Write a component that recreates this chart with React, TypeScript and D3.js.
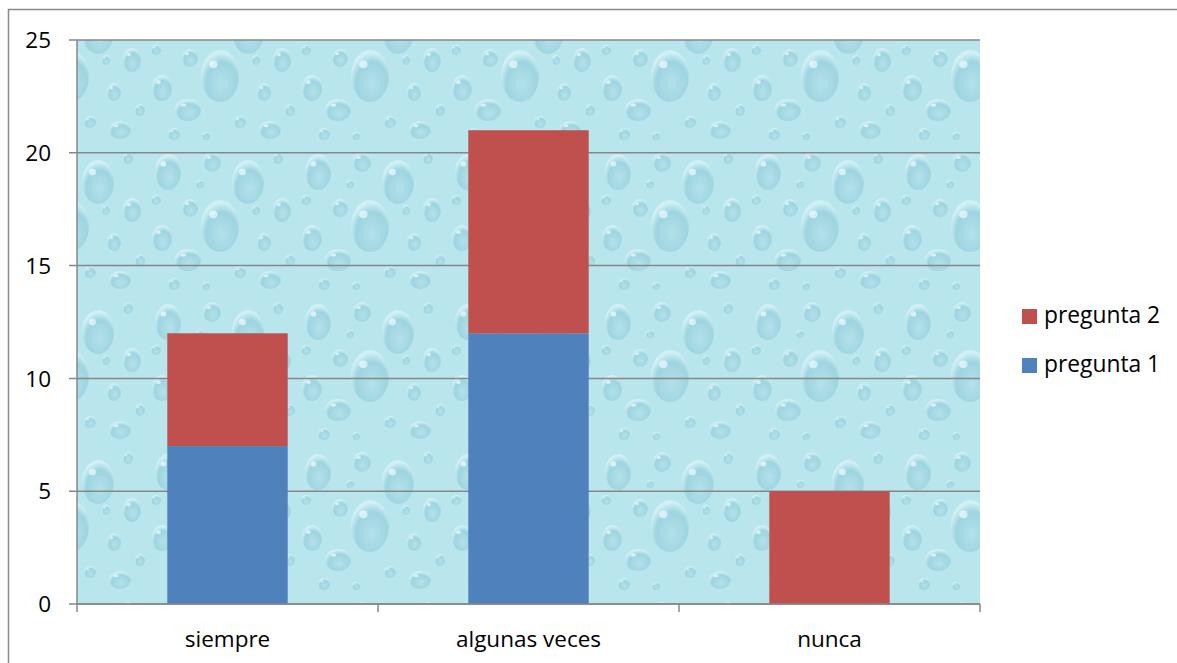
import * as d3 from "d3";

const categories = ["siempre", "algunas veces", "nunca"];
const pregunta1 = [7, 12, 0];
const pregunta2 = [5, 9, 5];
const yTicks = [0, 5, 10, 15, 20, 25];

const seriesNames = ["pregunta 1", "pregunta 2"];
const colors = ["#4f81bd", "#c0504d"];

const W = 1177;
const H = 663;
const plot = { left: 77, right: 980, top: 40, bottom: 604 };
const font = "'Open Sans', 'Noto Sans', sans-serif";

// decorative water-drop texture tile (not data)
const drops = [
  { x: 18, y: 22, rx: 13, ry: 18 },
  { x: 62, y: 12, rx: 9, ry: 10 },
  { x: 98, y: 32, rx: 16, ry: 22 },
  { x: 40, y: 58, rx: 8, ry: 9 },
  { x: 12, y: 88, rx: 10, ry: 13 },
  { x: 70, y: 76, rx: 19, ry: 26 },
  { x: 114, y: 92, rx: 7, ry: 9 },
  { x: 38, y: 110, rx: 13, ry: 11 },
  { x: 90, y: 122, rx: 6, ry: 6 },
  { x: 128, y: 8, rx: 5, ry: 6 },
  { x: 132, y: 60, rx: 9, ry: 12 },
  { x: 50, y: 34, rx: 4, ry: 4 },
  { x: 6, y: 50, rx: 5, ry: 5 },
  { x: 106, y: 60, rx: 4, ry: 5 },
  { x: 24, y: 134, rx: 6, ry: 6 },
  { x: 120, y: 130, rx: 11, ry: 9 },
  { x: 56, y: 136, rx: 4, ry: 4 },
  { x: 140, y: 110, rx: 5, ry: 6 },
];

export default function App() {
  const x = d3
    .scaleBand<string>()
    .domain(categories)
    .range([plot.left, plot.right])
    .padding(0);
  const y = d3.scaleLinear().domain([0, 25]).range([plot.bottom, plot.top]);

  const table = categories.map((c, i) => ({
    cat: c,
    "pregunta 1": pregunta1[i],
    "pregunta 2": pregunta2[i],
  }));
  const stacked = d3.stack<any>().keys(seriesNames)(table);

  const barW = x.bandwidth() * 0.4;
  const boundaries = [plot.left, ...categories.map((c) => (x(c) as number) + x.bandwidth())];

  return (
    <svg
      width={W}
      height={H}
      style={{ position: "absolute", left: 0, top: 0, background: "#fff" }}
      fontFamily={font}
    >
      <defs>
        <radialGradient id="drop" cx="0.55" cy="0.65" r="0.6">
          <stop offset="0" stopColor="#b2e0ea" />
          <stop offset="0.7" stopColor="#94cfdc" />
          <stop offset="1" stopColor="#d8f4f8" />
        </radialGradient>
        <pattern id="water" width={150} height={150} patternUnits="userSpaceOnUse">
          <rect width={150} height={150} fill="#b9e5ed" />
          {drops.map((d, i) => (
            <g key={i}>
              <ellipse cx={d.x} cy={d.y} rx={d.rx} ry={d.ry} fill="url(#drop)" opacity={0.75} />
              <ellipse
                cx={d.x - d.rx * 0.35}
                cy={d.y - d.ry * 0.45}
                rx={d.rx * 0.22}
                ry={d.ry * 0.15}
                fill="#effcff"
                opacity={0.7}
              />
            </g>
          ))}
        </pattern>
      </defs>

      {/* outer frame: only top and left edges are visible */}
      <path d={`M8.5,${H}V9.5H${W}`} fill="none" stroke="#898989" strokeWidth={1.5} />

      <rect
        x={plot.left}
        y={plot.top}
        width={plot.right - plot.left}
        height={plot.bottom - plot.top}
        fill="url(#water)"
      />

      {yTicks.map((t) => (
        <g key={t}>
          <line x1={69} x2={plot.right} y1={y(t)} y2={y(t)} stroke="#878787" strokeWidth={1.5} />
          <text x={51} y={y(t)} dy="0.36em" textAnchor="end" fontSize={22.5} fill="#000">
            {t}
          </text>
        </g>
      ))}

      {stacked.map((s, si) => (
        <g key={s.key} fill={colors[si]}>
          {s.map((d, i) => {
            const h = y(d[0]) - y(d[1]);
            if (h <= 0) return null;
            return (
              <rect
                key={i}
                x={(x(categories[i]) as number) + (x.bandwidth() - barW) / 2}
                y={y(d[1])}
                width={barW}
                height={h}
              />
            );
          })}
        </g>
      ))}

      <line x1={plot.left} x2={plot.left} y1={plot.top} y2={plot.bottom} stroke="#878787" strokeWidth={1.5} />
      <line x1={plot.left} x2={plot.right} y1={plot.bottom} y2={plot.bottom} stroke="#878787" strokeWidth={1.5} />
      {boundaries.map((b, i) => (
        <line key={i} x1={b} x2={b} y1={plot.bottom} y2={plot.bottom + 8} stroke="#878787" strokeWidth={1.5} />
      ))}

      {categories.map((c) => (
        <text
          key={c}
          x={(x(c) as number) + x.bandwidth() / 2}
          y={647}
          textAnchor="middle"
          fontSize={22.5}
          fill="#000"
        >
          {c}
        </text>
      ))}

      {/* legend: pregunta 2 on top */}
      {[1, 0].map((si, li) => (
        <g key={si} transform={`translate(1022, ${309 + li * 49})`}>
          <rect width={15} height={15} fill={colors[si]} />
          <text x={22} y={14} fontSize={22.8} fill="#000">
            {seriesNames[si]}
          </text>
        </g>
      ))}
    </svg>
  );
}
